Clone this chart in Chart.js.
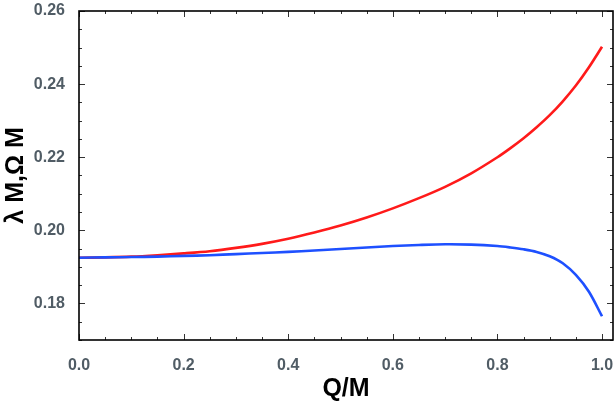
<!DOCTYPE html>
<html>
<head>
<meta charset="utf-8">
<script src="https://cdn.jsdelivr.net/npm/chart.js@4.4.1/dist/chart.umd.min.js"></script>
<style>
  html, body { margin: 0; padding: 0; background: #fff; }
  #wrap { width: 614px; height: 410px; }
</style>
</head>
<body>
<div id="wrap"><canvas id="chart"></canvas></div>
<script>
// Q/M samples
const qValues = [0, 0.05, 0.1, 0.15, 0.2, 0.25, 0.3, 0.35, 0.4, 0.45, 0.5, 0.55, 0.6, 0.65, 0.7, 0.75, 0.8, 0.825, 0.85, 0.875, 0.9, 0.925, 0.95, 0.975, 1.0];
// lambda M (red)
const lambdaM = [0.1925, 0.1926, 0.1928, 0.1932, 0.1937, 0.1943, 0.1952, 0.1963, 0.1977, 0.1994, 0.2013, 0.2035, 0.2060, 0.2088, 0.2119, 0.2156, 0.2200, 0.2225, 0.2252, 0.2282, 0.2315, 0.2353, 0.2396, 0.2446, 0.2502];
// Omega M (blue)
const omegaM = [0.1925, 0.1926, 0.1927, 0.1928, 0.1930, 0.1932, 0.1935, 0.1938, 0.1941, 0.1945, 0.1949, 0.1953, 0.1957, 0.1960, 0.1962, 0.1961, 0.1957, 0.1953, 0.1948, 0.1941, 0.1929, 0.1910, 0.1878, 0.1832, 0.1765];

const xTicks = [0, 0.2, 0.4, 0.6, 0.8, 1.0];
const yTicks = [0.18, 0.20, 0.22, 0.24, 0.26];
const xMinorStep = 0.05;
const yMinorStep = 0.005;

const labelColor = '#505c65';
const labelFont = { family: 'Liberation Sans, Arial, sans-serif', size: 16, weight: 'bold' };
const titleFont = { family: 'Liberation Sans, Arial, sans-serif', size: 25, weight: 'bold' };

function pts(ys) {
  return qValues.map((q, i) => ({ x: q, y: ys[i] }));
}

// frame with inward ticks on all four sides (Mathematica style)
const frameTicks = {
  id: 'frameTicks',
  afterDraw(chart) {
    const { ctx, chartArea: a, scales: { x, y } } = chart;
    ctx.save();
    ctx.strokeStyle = '#333';
    ctx.lineWidth = 1;
    for (let v = 0; v <= x.max + 1e-9; v += xMinorStep) {
      const major = xTicks.some(t => Math.abs(t - v) < 1e-6);
      const len = major ? 6 : 3;
      const px = Math.round(x.getPixelForValue(v)) + 0.5;
      ctx.beginPath();
      ctx.moveTo(px, a.bottom); ctx.lineTo(px, a.bottom - len);
      ctx.moveTo(px, a.top); ctx.lineTo(px, a.top + len);
      ctx.stroke();
    }
    for (let v = y.min; v <= y.max + 1e-9; v += yMinorStep) {
      const major = yTicks.some(t => Math.abs(t - v) < 1e-6);
      const len = major ? 6 : 3;
      const py = Math.round(y.getPixelForValue(v)) + 0.5;
      ctx.beginPath();
      ctx.moveTo(a.left, py); ctx.lineTo(a.left + len, py);
      ctx.moveTo(a.right, py); ctx.lineTo(a.right - len, py);
      ctx.stroke();
    }
    ctx.strokeStyle = '#000';
    ctx.lineWidth = 1.6;
    ctx.strokeRect(a.left, a.top, a.right - a.left, a.bottom - a.top);
    ctx.restore();
  }
};

new Chart(document.getElementById('chart'), {
  type: 'line',
  data: {
    datasets: [
      {
        label: 'Omega M',
        data: pts(omegaM),
        borderColor: '#1e50ff',
        borderWidth: 2.6,
        pointRadius: 0,
        tension: 0.3,
        fill: false
      },
      {
        label: 'lambda M',
        data: pts(lambdaM),
        borderColor: '#ff1a1a',
        borderWidth: 2.6,
        pointRadius: 0,
        tension: 0.3,
        fill: false
      }
    ]
  },
  options: {
    responsive: true,
    maintainAspectRatio: false,
    animation: false,
    layout: { padding: { top: 11, right: 1, left: 0, bottom: 0 } },
    plugins: {
      legend: { display: false },
      tooltip: { enabled: false }
    },
    scales: {
      x: {
        type: 'linear',
        min: 0,
        max: 1.021,
        afterBuildTicks: s => { s.ticks = xTicks.map(v => ({ value: v })); },
        afterFit: s => { s.height = 70; s.paddingLeft = 0; s.paddingRight = 0; },
        grid: { display: false },
        border: { display: false },
        ticks: {
          color: labelColor,
          font: labelFont,
          padding: 8,
          maxRotation: 0,
          callback: v => v.toFixed(1)
        },
        title: {
          display: true,
          text: 'Q/M',
          color: '#000',
          font: titleFont,
          padding: { top: 0, bottom: 6 }
        }
      },
      y: {
        min: 0.17,
        max: 0.26,
        afterBuildTicks: s => { s.ticks = yTicks.map(v => ({ value: v })); },
        afterFit: s => { s.width = 79; s.paddingTop = 0; s.paddingBottom = 0; },
        grid: { display: false },
        border: { display: false },
        ticks: {
          color: labelColor,
          font: labelFont,
          padding: 6,
          callback: v => v.toFixed(2)
        },
        title: {
          display: true,
          text: 'λ M,Ω M',
          color: '#000',
          font: titleFont,
          padding: { top: 1, bottom: 0 }
        }
      }
    }
  },
  plugins: [frameTicks]
});
</script>
</body>
</html>
